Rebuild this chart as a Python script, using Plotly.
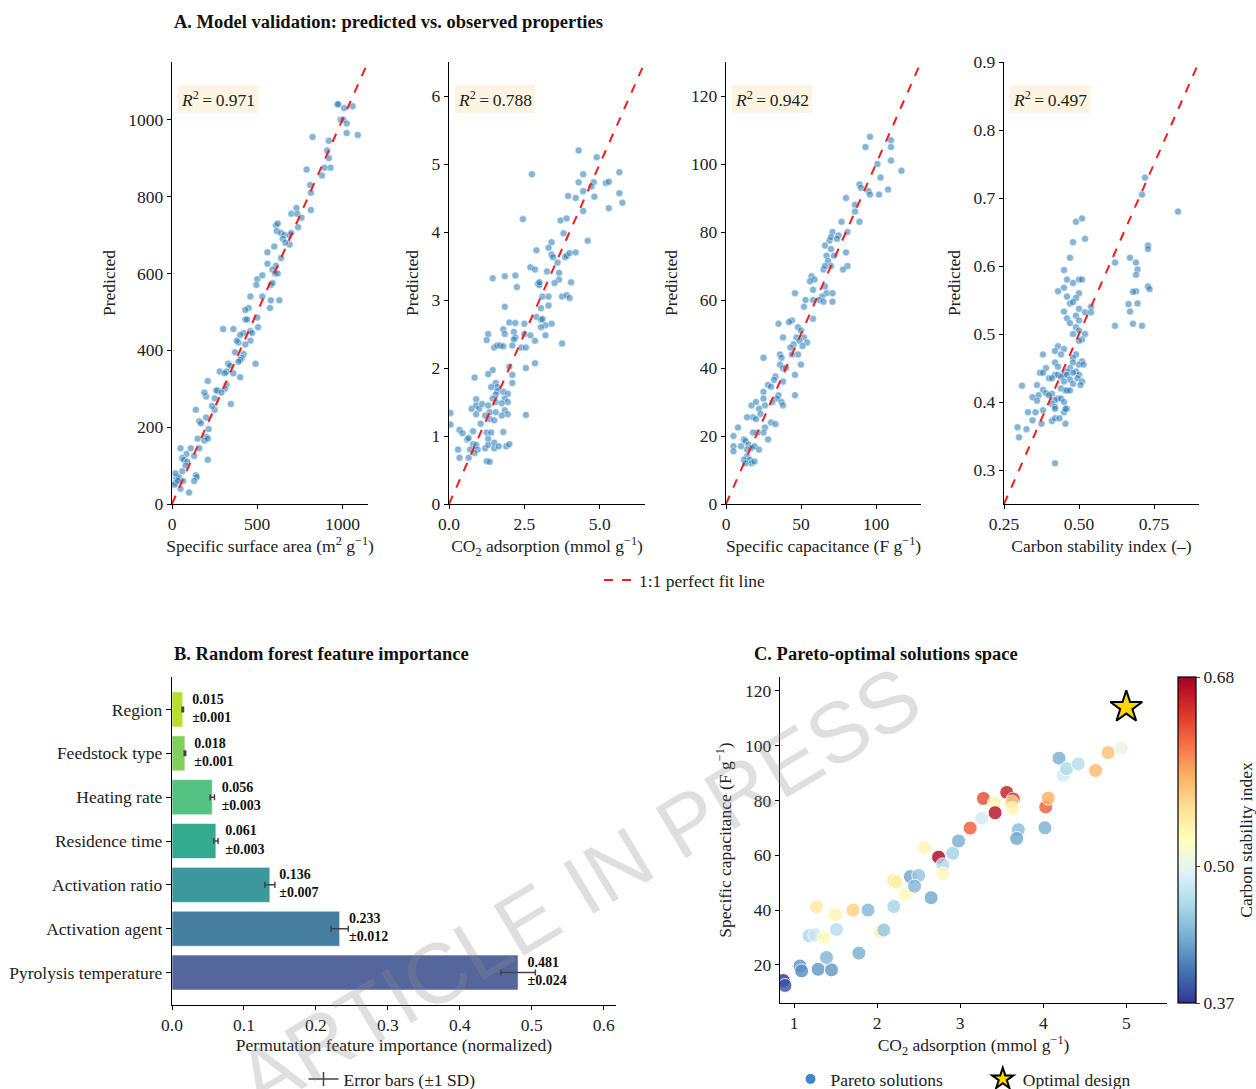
import plotly.graph_objects as go

# ---------------- DATA ----------------
# Panel A: observed vs predicted
ssa_obs = [970, 975, 1010, 1060, 990, 1005, 1025, 1025, 1090, 825, 920, 910, 920, 895, 930, 880, 790, 810, 815, 815,
           730, 700, 735, 760, 740, 610, 620, 615, 640, 660, 690, 700, 650, 690, 665, 600, 560, 640, 560, 610,
           590, 605, 620, 500, 530, 495, 580, 590, 530, 460, 580, 630, 575, 450, 430, 430, 440, 500, 460, 470,
           460, 420, 400, 390, 380, 430, 505, 300, 360, 370, 420, 410, 400, 390, 330, 340, 360, 490, 280, 320,
           310, 400, 320, 310, 270, 260, 290, 250, 200, 190, 210, 250, 235, 345, 140, 160, 170, 200, 215, 200,
           190, 210, 150, 160, 110, 130, 85, 50, 60, 70, 90, 80, 60, 25, 30, 20, 15, 40, 140, 145,
           130, 50, 65, 100, 210, 20, 35]
ssa_pred = [1040, 1040, 1030, 1035, 1000, 1000, 990, 965, 960, 955, 945, 920, 900, 875, 875, 855, 870, 830, 810, 765,
            770, 755, 755, 745, 720, 725, 730, 710, 705, 700, 700, 705, 690, 675, 680, 670, 655, 640, 625, 620,
            610, 600, 600, 585, 595, 570, 570, 575, 540, 540, 530, 530, 510, 510, 505, 480, 480, 485, 450, 445,
            425, 445, 440, 420, 425, 415, 460, 455, 455, 395, 390, 380, 375, 370, 365, 360, 340, 365, 345, 345,
            340, 330, 310, 300, 295, 295, 290, 275, 280, 290, 320, 245, 255, 260, 245, 215, 210, 225, 195, 175,
            165, 170, 170, 145, 145, 125, 130, 145, 120, 115, 110, 100, 85, 70, 65, 55, 50, 70, 75, 70,
            60, 40, 60, 30, 115, 80, 60]

co2_obs = [4.3, 4.9, 2.75, 4.45, 5.65, 4.3, 4.8, 4.72, 5.2, 5.3, 4.45, 5.65, 4.82, 3.95, 4.2, 5.75, 5.3, 4.45, 2.45, 3.7,
           3.9, 4.6, 3.8, 3.4, 3.3, 2.9, 3.4, 3.45, 3.85, 3.9, 4.0, 4.2, 3.6, 3.65, 2.7, 2.85, 3.25, 3.65, 3.5, 4.05,
           1.45, 1.85, 2.2, 2.25, 2.95, 3.0, 3.0, 3.1, 3.3, 3.75, 3.9, 4.0, 1.85, 3.05, 3.3, 2.9, 3.05, 3.1, 3.4, 3.2,
           2.5, 2.0, 2.2, 3.05, 1.3, 1.8, 2.15, 2.2, 2.5, 2.7, 3.2, 1.25, 1.85, 2.15, 2.4, 2.55, 2.85, 3.75, 1.5, 1.6,
           1.7, 1.8, 2.1, 2.55, 2.85, 2.0, 1.45, 1.3, 0.85, 2.1, 1.55, 1.6, 1.4, 2.1, 1.6, 1.8, 1.95, 1.55, 1.45, 1.85,
           0.9, 1.55, 1.95, 1.75, 0.75, 0.9, 1.0, 1.1, 1.3, 1.35, 1.55, 1.85, 1.95, 0.9, 1.35, 1.5, 1.2, 2.55, 1.05, 1.75,
           0.05, 0.05, 0.35, 0.45, 0.8, 1.25, 1.4, 1.8, 0.6, 0.65, 0.8, 0.9, 0.95, 1.2, 1.3, 1.3, 1.5, 1.5, 1.65, 1.9,
           2.0, 0.3, 0.7, 0.85, 0.35, 0.65, 1.25, 1.35]
co2_pred = [5.2, 5.1, 4.85, 4.85, 4.88, 4.73, 4.73, 4.67, 4.72, 4.74, 4.6, 4.57, 4.52, 4.53, 4.5, 4.43, 4.35, 4.31, 4.19, 4.17,
            4.2, 3.87, 3.98, 3.85, 3.77, 3.73, 3.67, 3.63, 3.63, 3.65, 3.69, 3.7, 3.55, 3.4, 3.48, 3.45, 3.42, 3.3, 3.25, 3.26,
            3.32, 3.35, 3.36, 3.19, 3.24, 3.22, 3.26, 3.05, 3.05, 3.05, 3.07, 3.03, 2.9, 2.88, 2.92, 2.75, 2.71, 2.72, 2.65, 2.63,
            2.65, 2.67, 2.66, 2.6, 2.5, 2.57, 2.53, 2.45, 2.5, 2.48, 2.48, 2.41, 2.5, 2.42, 2.3, 2.3, 2.4, 2.36, 2.3, 2.33,
            2.33, 2.32, 2.33, 2.0, 2.07, 2.02, 1.97, 1.91, 1.86, 1.9, 1.78, 1.72, 1.72, 1.78, 1.66, 1.65, 1.62, 1.61, 1.55, 1.55,
            1.54, 1.5, 1.5, 1.48, 1.4, 1.45, 1.4, 1.47, 1.45, 1.35, 1.35, 1.38, 1.32, 1.32, 1.25, 1.23, 1.3, 1.31, 1.18, 1.3,
            1.34, 1.17, 1.09, 1.04, 1.07, 1.05, 1.05, 1.06, 0.95, 0.97, 0.88, 0.87, 0.8, 0.82, 0.96, 0.87, 0.82, 0.9, 0.85, 0.85,
            0.88, 0.8, 0.8, 0.75, 0.68, 0.68, 0.63, 0.62]

cap_obs = [96, 93, 110, 110, 101, 103, 110, 117, 89, 90, 95, 96, 102, 108, 80, 86, 89, 86, 77, 81,
           71, 75, 69, 66, 70, 74, 70, 67, 80, 81, 78, 68, 72, 70, 65, 66, 57, 59, 56, 66,
           58, 67, 71, 64, 62, 71, 58, 65, 53, 52, 46, 58, 48, 50, 52, 47, 49, 54, 51, 44,
           42, 35, 45, 43, 38, 48, 36, 37, 36, 38, 40, 50, 44, 46, 33, 32, 38, 28, 30, 25,
           35, 34, 37, 46, 31, 38, 26, 25, 25, 17, 20, 22, 23, 18, 20, 14, 30, 33, 26, 25,
           21, 18, 8, 5, 28, 12, 13, 15, 17, 14, 19, 22, 5, 5, 10, 14, 12, 16, 17, 13, 19]
cap_pred = [108, 105, 107, 105, 100, 96, 101, 98, 94, 93, 92, 91, 91, 92.5, 90, 88, 83, 86, 83, 80,
            80, 79, 77.5, 76, 78.5, 78, 75, 73, 74, 70, 69, 71.5, 73, 70, 69, 70, 67, 66, 65.5, 64,
            63, 62, 62, 61, 60, 59.5, 60, 59.5, 60, 58, 62, 54.5, 52, 51, 49, 49, 48, 47.5, 46.5, 54,
            53.5, 53, 47, 46, 49, 44, 44, 43, 41, 40, 40, 41, 44, 38, 37.5, 36.5, 36, 35, 34.5, 33,
            32, 31, 30, 32, 30, 29, 29, 31, 43, 29, 30, 28, 26.5, 25.5, 25, 25.5, 24, 23.5, 22.5, 21,
            21, 21, 22.5, 20, 19, 19, 18.5, 17.5, 16.5, 16, 17, 16, 17, 15.5, 17, 14, 13, 13, 12, 12, 12.5]

csi_obs = [0.72, 0.71, 0.83, 0.51, 0.49, 0.52, 0.48, 0.73, 0.73, 0.67, 0.47, 0.69, 0.62, 0.695, 0.45, 0.69, 0.46, 0.48, 0.5, 0.51,
           0.73, 0.735, 0.45, 0.43, 0.69, 0.68, 0.50, 0.46, 0.49, 0.47, 0.48, 0.695, 0.665, 0.54, 0.5, 0.45, 0.52, 0.54, 0.67, 0.49,
           0.46, 0.47, 0.5, 0.62, 0.68, 0.71, 0.49, 0.5, 0.48, 0.52, 0.51, 0.5, 0.43, 0.45, 0.42, 0.44, 0.38, 0.49, 0.48, 0.51,
           0.42, 0.5, 0.515, 0.43, 0.39, 0.48, 0.47, 0.46, 0.45, 0.49, 0.5, 0.37, 0.38, 0.42, 0.43, 0.44, 0.46, 0.48, 0.40, 0.41,
           0.47, 0.495, 0.45, 0.51, 0.48, 0.36, 0.31, 0.44, 0.455, 0.46, 0.47, 0.505, 0.38, 0.39, 0.41, 0.365, 0.345, 0.40, 0.36, 0.43,
           0.42, 0.44, 0.45, 0.38, 0.41, 0.42, 0.42, 0.46, 0.45, 0.455, 0.33, 0.355, 0.345, 0.375, 0.41, 0.42, 0.435, 0.455, 0.295, 0.3,
           0.325, 0.42]
csi_pred = [0.73, 0.705, 0.68, 0.67, 0.665, 0.64, 0.635, 0.63, 0.625, 0.612, 0.612, 0.605, 0.605, 0.595, 0.594, 0.587, 0.58, 0.575, 0.58, 0.58,
            0.57, 0.566, 0.568, 0.563, 0.563, 0.562, 0.56, 0.555, 0.553, 0.545, 0.547, 0.545, 0.544, 0.54, 0.537, 0.533, 0.532, 0.532, 0.533, 0.527,
            0.523, 0.516, 0.52, 0.512, 0.515, 0.512, 0.51, 0.505, 0.5, 0.5, 0.492, 0.49, 0.482, 0.478, 0.475, 0.47, 0.47, 0.47, 0.465, 0.46,
            0.458, 0.455, 0.455, 0.452, 0.45, 0.458, 0.45, 0.445, 0.44, 0.445, 0.44, 0.443, 0.443, 0.44, 0.44, 0.437, 0.44, 0.443, 0.435, 0.435,
            0.433, 0.435, 0.43, 0.43, 0.427, 0.425, 0.424, 0.42, 0.417, 0.417, 0.417, 0.425, 0.418, 0.413, 0.412, 0.41, 0.407, 0.41, 0.402, 0.405,
            0.403, 0.405, 0.4, 0.388, 0.397, 0.393, 0.39, 0.39, 0.385, 0.39, 0.385, 0.385, 0.373, 0.368, 0.372, 0.376, 0.376, 0.368, 0.363, 0.348,
            0.36, 0.31]

r2_values = ["0.971", "0.788", "0.942", "0.497"]
x_titles = ["Specific surface area (m<sup>2</sup> g<sup>\u22121</sup>)",
            "CO<sub>2</sub> adsorption (mmol g<sup>\u22121</sup>)",
            "Specific capacitance (F g<sup>\u22121</sup>)",
            "Carbon stability index (\u2013)"]

# Panel B: feature importance (top to bottom as displayed)
features = ["Region", "Feedstock type", "Heating rate", "Residence time",
            "Activation ratio", "Activation agent", "Pyrolysis temperature"]
importance = [0.015, 0.018, 0.056, 0.061, 0.136, 0.233, 0.481]
importance_sd = [0.001, 0.001, 0.003, 0.003, 0.007, 0.012, 0.024]
bar_colors = ["#b8de30", "#80d15b", "#53c283", "#34ab8e", "#3b999c", "#467ea0", "#55669c"]

# Panel C: Pareto solutions
par_co2 = [0.67, 0.87, 0.89, 1.07, 1.09, 1.29, 1.45, 1.39, 1.78, 1.18, 1.25, 1.36, 1.51, 1.27, 1.50, 1.71, 1.89, 2.04,
           2.08, 2.20, 2.20, 2.23, 2.34, 2.40, 2.50, 2.45, 2.65, 2.57, 2.74, 2.79, 2.79, 2.91, 2.98, 3.12, 3.26, 3.28,
           3.41, 3.42, 3.56, 3.64, 3.62, 3.63, 3.70, 3.68, 4.03, 4.06, 4.02, 4.19, 4.24, 4.28, 4.42, 4.63, 4.78, 4.94]
par_cap = [12.3, 14.3, 12.5, 19.6, 17.8, 18.4, 18.2, 22.7, 24.3, 30.6, 31.0, 30.0, 32.9, 41.2, 38.3, 40.0, 40.0, 32.2,
           32.7, 41.3, 50.7, 50.2, 45.9, 52.2, 52.6, 48.7, 44.5, 62.8, 59.3, 56.5, 53.2, 60.7, 65.2, 69.9, 73.5, 80.7,
           79.1, 75.5, 82.9, 80.5, 79.4, 77.0, 69.3, 66.1, 77.6, 80.8, 70.0, 95.4, 89.1, 91.6, 93.3, 90.9, 97.4, 99.0]
par_csi = [0.375, 0.37, 0.385, 0.42, 0.415, 0.42, 0.42, 0.44, 0.435, 0.465, 0.48, 0.53, 0.47, 0.545, 0.535, 0.565, 0.44, 0.535,
           0.45, 0.46, 0.555, 0.54, 0.53, 0.43, 0.45, 0.44, 0.43, 0.535, 0.675, 0.465, 0.53, 0.46, 0.435, 0.625, 0.485, 0.635,
           0.535, 0.67, 0.66, 0.645, 0.565, 0.535, 0.445, 0.43, 0.625, 0.585, 0.435, 0.435, 0.485, 0.465, 0.47, 0.58, 0.575, 0.505]
opt_co2 = [5.0]
opt_cap = [114.0]
cbar_ticks = [0.37, 0.50, 0.68]

# ---------------- FIGURE ----------------
W, H = 1256, 1089
FONT = "Liberation Serif, Times New Roman, serif"
FS = 17.5


def px_x(p):
    return p / W


def px_y(p):
    return 1 - p / H


fig = go.Figure()

panelA = [(ssa_obs, ssa_pred, [0, 1150], [0, 1150], 500, 0, 200, 0, None, None),
          (co2_obs, co2_pred, [0, 6.5], [0, 6.5], 2.5, 0, 1, 0, ".1f", None),
          (cap_obs, cap_pred, [0, 130], [0, 130], 50, 0, 20, 0, None, None),
          (csi_obs, csi_pred, [0.25, 0.9], [0.25, 0.9], 0.25, 0.25, 0.1, 0.3, ".2f", ".1f")]
xdoms = [(172, 368), (449, 645), (726, 921), (1004, 1199)]

tfont = dict(family=FONT, size=FS, color="#222")
axis_common = dict(showline=True, linecolor="black", linewidth=1.3, ticks="outside", ticklen=4,
                   tickwidth=1.1, tickcolor="black", showgrid=False, zeroline=False, mirror=False,
                   tickfont=tfont)

for i, (ox, oy, xr, yr, xdt, xt0, ydt, yt0, xfmt, yfmt) in enumerate(panelA):
    n = "" if i == 0 else str(i + 1)
    xa, ya = "x" + n, "y" + n
    fig.add_trace(go.Scatter(x=ox, y=oy, mode="markers", xaxis=xa, yaxis=ya, showlegend=False,
                             marker=dict(size=7, color="rgba(31,119,180,0.55)",
                                         line=dict(color="white", width=0.5))))
    fig.add_trace(go.Scatter(x=xr, y=xr, mode="lines", xaxis=xa, yaxis=ya,
                             name="1:1 perfect fit line", showlegend=(i == 0), legend="legend",
                             line=dict(color="#f21d1d", width=2, dash="dash")))
    xd = xdoms[i]
    fig.update_layout(**{
        "xaxis" + n: dict(axis_common, domain=[px_x(xd[0]), px_x(xd[1])], range=xr, anchor=ya,
                          dtick=xdt, tick0=xt0, tickformat=xfmt,
                          title=dict(text=x_titles[i], font=tfont, standoff=6)),
        "yaxis" + n: dict(axis_common, domain=[px_y(504), px_y(62)], range=yr, anchor=xa,
                          dtick=ydt, tick0=yt0, tickformat=yfmt,
                          title=dict(text="Predicted", font=tfont, standoff=8)),
    })
    fig.add_annotation(xref=xa + " domain", yref=ya + " domain", x=0.03, y=0.916,
                       xanchor="left", yanchor="middle", showarrow=False,
                       text="<i>R</i><sup>2</sup>\u2009=\u20090." + r2_values[i][2:],
                       font=tfont, bgcolor="#fdf5e1", bordercolor="#fdf5e1", borderpad=2)

# Panel B
feat_plot = features[::-1]
fig.add_trace(go.Bar(y=feat_plot, x=importance[::-1], orientation="h", xaxis="x5", yaxis="y5",
                     width=0.8, showlegend=False,
                     marker=dict(color=bar_colors[::-1], line=dict(color="rgba(255,255,255,0.6)", width=1)),
                     error_x=dict(type="data", array=importance_sd[::-1], color="#444", thickness=1.5, width=3)))
fig.add_trace(go.Scatter(y=feat_plot, x=[v + 0.013 for v in importance[::-1]], mode="text",
                         xaxis="x5", yaxis="y5", showlegend=False, textposition="middle right",
                         text=["<b>%.3f<br>\u00b1%.3f</b>" % (v, s) for v, s in zip(importance[::-1], importance_sd[::-1])],
                         textfont=dict(family=FONT, size=14, color="#111")))
fig.add_trace(go.Scatter(x=[None], y=[None], mode="lines+markers", xaxis="x5", yaxis="y5",
                         name="Error bars (\u00b11 SD)", legend="legend2",
                         line=dict(color="#444", width=1.5),
                         marker=dict(symbol="line-ns-open", size=10, color="#444", line=dict(width=1.5, color="#444"))))
fig.update_layout(
    xaxis5=dict(axis_common, domain=[px_x(172), px_x(616)], range=[0, 0.617], anchor="y5", dtick=0.1,
                tickformat=".1f",
                title=dict(text="Permutation feature importance (normalized)", font=tfont, standoff=4)),
    yaxis5=dict(axis_common, domain=[px_y(1005), px_y(677)], range=[-0.74, 6.74], anchor="x5",
                categoryorder="array", categoryarray=feat_plot, ticklen=5),
)

# Panel C
rdylbu_r = [[0.0, "#313695"], [0.1, "#4575b4"], [0.2, "#74add1"], [0.3, "#abd9e9"], [0.4, "#e0f3f8"],
            [0.5, "#ffffbf"], [0.6, "#fee090"], [0.7, "#fdae61"], [0.8, "#f46d43"], [0.9, "#d73027"],
            [1.0, "#a50026"]]
fig.add_trace(go.Scatter(x=par_co2, y=par_cap, mode="markers", xaxis="x6", yaxis="y6", showlegend=False,
                         marker=dict(size=14, color=par_csi, colorscale=rdylbu_r, cmin=cbar_ticks[0],
                                     cmax=cbar_ticks[-1], opacity=0.82,
                                     line=dict(color="white", width=1),
                                     colorbar=dict(x=px_x(1178), xanchor="left", y=px_y(1003), yanchor="bottom",
                                                   len=(1003 - 677) / H, lenmode="fraction", thickness=18,
                                                   xpad=0, ypad=0, outlinewidth=1.2, outlinecolor="black",
                                                   tickvals=cbar_ticks, ticktext=["%.2f" % t for t in cbar_ticks],
                                                   ticks="outside", ticklen=4, tickfont=tfont,
                                                   title=dict(text="Carbon stability index", side="right",
                                                              font=tfont)))))
fig.add_trace(go.Scatter(x=[None], y=[None], mode="markers", xaxis="x6", yaxis="y6",
                         name="Pareto solutions\u2003\u2003", legend="legend3",
                         marker=dict(size=11, color="#3b8bc2", line=dict(color="white", width=1))))
fig.add_trace(go.Scatter(x=opt_co2, y=opt_cap, mode="markers", xaxis="x6", yaxis="y6",
                         name="Optimal design", legend="legend3",
                         marker=dict(symbol="star", size=24, color="#FFD700", line=dict(color="black", width=2))))
fig.update_layout(
    xaxis6=dict(axis_common, domain=[px_x(780), px_x(1167)], range=[0.83, 5.49], anchor="y6", dtick=1,
                title=dict(text="CO<sub>2</sub> adsorption (mmol g<sup>\u22121</sup>)", font=tfont, standoff=6)),
    yaxis6=dict(axis_common, domain=[px_y(1003), px_y(677)], range=[6.1, 125], anchor="x6", dtick=20,
                title=dict(text="Specific capacitance (F g<sup>\u22121</sup>)", font=tfont, standoff=8)),
)

# Titles
titles = [("A. Model validation: predicted vs. observed properties", 172, 22),
          ("B. Random forest feature importance", 172, 654),
          ("C. Pareto-optimal solutions space", 752, 654)]
for t, x0, y0 in titles:
    fig.add_annotation(xref="paper", yref="paper", x=px_x(x0), y=px_y(y0), xanchor="left", yanchor="middle",
                       showarrow=False, text="<b>%s</b>" % t, font=dict(family=FONT, size=18.5, color="#111"))

# Watermark
fig.add_annotation(xref="paper", yref="paper", x=px_x(578), y=px_y(888), xanchor="center", yanchor="middle",
                   showarrow=False, text="ARTICLE IN PRESS", textangle=-31,
                   font=dict(family="Liberation Sans, Arial, sans-serif", size=85, color="rgba(140,140,140,0.28)"))

legend_font = dict(family=FONT, size=FS, color="#222")
fig.update_layout(
    width=W, height=H, margin=dict(l=0, r=0, t=0, b=0, autoexpand=False),
    paper_bgcolor="white", plot_bgcolor="white",
    font=dict(family=FONT, size=FS, color="#222"),
    legend=dict(x=px_x(685), y=px_y(580), xanchor="center", yanchor="middle", orientation="h",
                font=legend_font, bgcolor="rgba(0,0,0,0)"),
    legend2=dict(x=px_x(392), y=px_y(1079), xanchor="center", yanchor="middle", orientation="h",
                 font=legend_font, bgcolor="rgba(0,0,0,0)"),
    legend3=dict(x=px_x(963), y=px_y(1079), xanchor="center", yanchor="middle", orientation="h",
                 font=legend_font, bgcolor="rgba(0,0,0,0)"),
)

fig.write_html("out.html")
